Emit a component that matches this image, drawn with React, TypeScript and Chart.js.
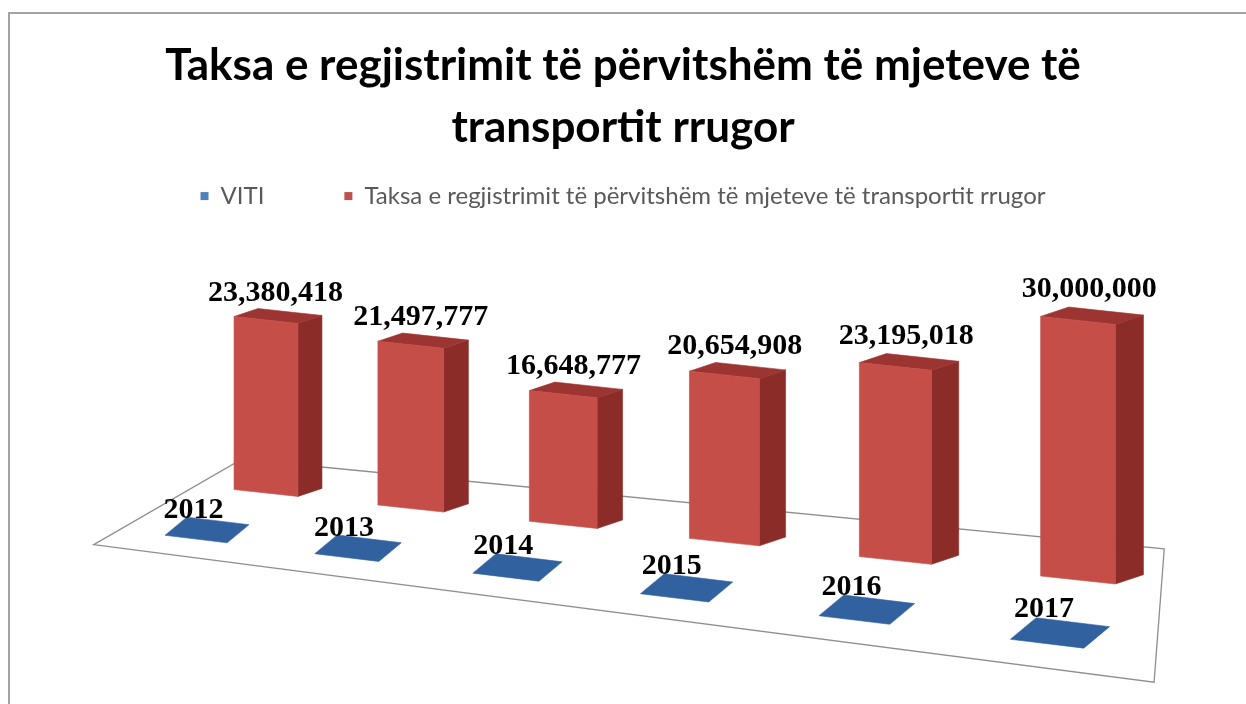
import React, { useEffect, useRef } from 'react';
import { Chart, registerables } from 'chart.js';

Chart.register(...registerables);

// ---------- data ----------
const YEARS = ['2012', '2013', '2014', '2015', '2016', '2017'];
const VITI = [2012, 2013, 2014, 2015, 2016, 2017];
const TAKSA = [23380418, 21497777, 16648777, 20654908, 23195018, 30000000];
const SERIES_NAMES = ['VITI', 'Taksa e regjistrimit të përvitshëm të mjeteve të transportit rrugor'];
const TITLE_LINES = ['Taksa e regjistrimit të përvitshëm të mjeteve të', 'transportit rrugor'];
const Y_MAX = 30000000;

// ---------- styling / projection constants ----------
const LEGEND_COLORS = ['#4F81BD', '#C0504D'];
const RED_FRONT = '#C64E49';
const RED_SIDE = '#8B2C29';
const RED_TOP = '#9C3532';
const BLUE_TOP = '#31619F';
const FLOOR_LINE = '#8f8f8f';
const LABEL_FONT = 'bold 30px "Liberation Serif", "Times New Roman", serif';

// anchors of the perspective floor: (s,t) unit square -> screen px
// s: first..last category, t: front series row..back series row
const ANCHOR_00 = [207, 530];
const ANCHOR_10 = [1060, 633];
const ANCHOR_11 = [1078, 580];
const ANCHOR_01 = [266, 493];
const PERSPECTIVE_MIX = 0.65;
const PERSPECTIVE_POWER = 0.7;
const X_REF = 680; // px per unit s at reference depth (width conversion)
const H_FULL = 222; // px for Y_MAX at reference depth
const BAR_DEPTH = [24, -8];
const FLAT_DEPTH = [21, -17.5];
const FLOOR_T = [-0.62, 1.78];

function makeHomography(p0: number[], p1: number[], p2: number[], p3: number[]) {
  const [x0, y0] = p0, [x1, y1] = p1, [x2, y2] = p2, [x3, y3] = p3;
  const dx1 = x1 - x2, dy1 = y1 - y2, dx2 = x3 - x2, dy2 = y3 - y2;
  const dx3 = x0 - x1 + x2 - x3, dy3 = y0 - y1 + y2 - y3;
  const den = dx1 * dy2 - dx2 * dy1;
  const g = (dx3 * dy2 - dx2 * dy3) / den;
  const h = (dx1 * dy3 - dx3 * dy1) / den;
  const a = x1 - x0 + g * x1, b = x3 - x0 + h * x3, c = x0;
  const d = y1 - y0 + g * y1, e = y3 - y0 + h * y3, f = y0;
  return (s: number, t: number) => {
    const w = g * s + h * t + 1;
    return { x: (a * s + b * t + c) / w, y: (d * s + e * t + f) / w, w };
  };
}

const HOM = makeHomography(ANCHOR_00, ANCHOR_10, ANCHOR_11, ANCHOR_01);
function P(s: number, t: number) {
  const h = HOM(s, t);
  const bx =
    (1 - s) * (1 - t) * ANCHOR_00[0] + s * (1 - t) * ANCHOR_10[0] + s * t * ANCHOR_11[0] + (1 - s) * t * ANCHOR_01[0];
  const by =
    (1 - s) * (1 - t) * ANCHOR_00[1] + s * (1 - t) * ANCHOR_10[1] + s * t * ANCHOR_11[1] + (1 - s) * t * ANCHOR_01[1];
  const m = PERSPECTIVE_MIX;
  return { x: m * h.x + (1 - m) * bx, y: m * h.y + (1 - m) * by, w: h.w };
}
const W_REF = HOM(0, 1).w;
const scaleAt = (s: number, t: number) => Math.pow(W_REF / HOM(s, t).w, PERSPECTIVE_POWER);
const slopeAt = (s: number, t: number) => {
  const a = P(s - 0.01, t), b = P(s + 0.01, t);
  return (b.y - a.y) / (b.x - a.x);
};

function poly(ctx: CanvasRenderingContext2D, pts: number[][], fill: string) {
  ctx.beginPath();
  ctx.moveTo(pts[0][0], pts[0][1]);
  for (let i = 1; i < pts.length; i++) ctx.lineTo(pts[i][0], pts[i][1]);
  ctx.closePath();
  ctx.fillStyle = fill;
  ctx.fill();
  ctx.strokeStyle = fill;
  ctx.lineWidth = 0.6;
  ctx.stroke();
}

const bars3d = {
  id: 'bars3d',
  beforeDatasetsDraw(chart: any) {
    const ctx: CanvasRenderingContext2D = chart.ctx;
    const xs = chart.scales.x;
    const p0 = xs.getPixelForValue(0);
    const p1 = xs.getPixelForValue(YEARS.length - 1);
    const sL = (chart.chartArea.left - p0) / (p1 - p0);
    const sR = (chart.chartArea.right - p0) / (p1 - p0);
    const c = [P(sL, FLOOR_T[0]), P(sR, FLOOR_T[0]), P(sR - 0.02, FLOOR_T[1]), P(sL, FLOOR_T[1])];
    ctx.save();
    ctx.beginPath();
    ctx.moveTo(c[0].x, c[0].y);
    for (let i = 1; i < 4; i++) ctx.lineTo(c[i].x, c[i].y);
    ctx.closePath();
    ctx.fillStyle = '#ffffff';
    ctx.fill();
    ctx.strokeStyle = FLOOR_LINE;
    ctx.lineWidth = 1.3;
    ctx.stroke();
    ctx.restore();
  },
  beforeDatasetDraw() {
    return false;
  },
  afterDatasetsDraw(chart: any) {
    const ctx: CanvasRenderingContext2D = chart.ctx;
    const xs = chart.scales.x, ys = chart.scales.y;
    const p0 = xs.getPixelForValue(0);
    const p1 = xs.getPixelForValue(YEARS.length - 1);
    const span = p1 - p0;
    const yFull = ys.getPixelForValue(0) - ys.getPixelForValue(Y_MAX);
    ctx.save();

    // back row: red columns
    const red = chart.getDatasetMeta(1);
    red.data.forEach((el: any, i: number) => {
      const s = (el.x - p0) / span;
      const t = 1;
      const sc = scaleAt(s, t);
      const ctr = P(s, t);
      const slope = slopeAt(s, t);
      const hw = (el.width / span / 2) * X_REF * sc;
      const hpx = ((el.base - el.y) / yFull) * H_FULL * sc;
      const D = [BAR_DEPTH[0] * sc, BAR_DEPTH[1] * sc];
      const BL = [ctr.x - hw, ctr.y - hw * slope];
      const BR = [ctr.x + hw, ctr.y + hw * slope];
      const TL = [BL[0], BL[1] - hpx];
      const TR = [BR[0], BR[1] - hpx];
      const BRd = [BR[0] + D[0], BR[1] + D[1]];
      const TRd = [TR[0] + D[0], TR[1] + D[1]];
      const TLd = [TL[0] + D[0], TL[1] + D[1]];
      poly(ctx, [BR, BRd, TRd, TR], RED_SIDE);
      poly(ctx, [TL, TR, TRd, TLd], RED_TOP);
      poly(ctx, [BL, BR, TR, TL], RED_FRONT);
      // value label
      const v = chart.data.datasets[1].data[i] as number;
      ctx.font = LABEL_FONT;
      ctx.fillStyle = '#000';
      ctx.textAlign = 'center';
      ctx.textBaseline = 'middle';
      ctx.fillText(v.toLocaleString('en-US'), ctr.x + D[0] * 0.4, Math.min(TLd[1], TRd[1]) - 15 * sc);
    });

    // front row: blue (flat) columns
    const blue = chart.getDatasetMeta(0);
    blue.data.forEach((el: any) => {
      const s = (el.x - p0) / span;
      const t = 0;
      const sc = scaleAt(s, t);
      const ctr = P(s, t);
      const slope = slopeAt(s, t);
      const hw = (el.width / span / 2) * X_REF * sc;
      const hpx = ((el.base - el.y) / yFull) * H_FULL * sc;
      const D = [FLAT_DEPTH[0] * sc, FLAT_DEPTH[1] * sc];
      const FL = [ctr.x - hw - D[0] / 2, ctr.y - hw * slope - D[1] / 2 - hpx];
      const FR = [ctr.x + hw - D[0] / 2, ctr.y + hw * slope - D[1] / 2 - hpx];
      const BRk = [FR[0] + D[0], FR[1] + D[1]];
      const BLk = [FL[0] + D[0], FL[1] + D[1]];
      poly(ctx, [FL, FR, BRk, BLk], BLUE_TOP);
    });
    blue.data.forEach((el: any, i: number) => {
      const s = (el.x - p0) / span;
      const sc = scaleAt(s, 0);
      const ctr = P(s, 0);
      const v = chart.data.datasets[0].data[i] as number;
      ctx.font = LABEL_FONT;
      ctx.fillStyle = '#000';
      ctx.textAlign = 'center';
      ctx.textBaseline = 'middle';
      ctx.fillText(String(v), ctr.x - 13 * sc, ctr.y - 19 * sc);
    });
    ctx.restore();
  },
};

export default function App() {
  const ref = useRef<HTMLCanvasElement | null>(null);
  useEffect(() => {
    if (!ref.current) return;
    const chart = new Chart(ref.current, {
      type: 'bar',
      data: {
        labels: YEARS,
        datasets: [
          {
            label: SERIES_NAMES[0],
            data: VITI,
            backgroundColor: LEGEND_COLORS[0],
            borderWidth: 0,
            grouped: false,
            categoryPercentage: 1,
            barPercentage: 0.44,
          },
          {
            label: SERIES_NAMES[1],
            data: TAKSA,
            backgroundColor: LEGEND_COLORS[1],
            borderWidth: 0,
            grouped: false,
            categoryPercentage: 1,
            barPercentage: 0.47,
          },
        ],
      },
      options: {
        animation: false,
        responsive: false,
        devicePixelRatio: 1,
        events: [],
        layout: { padding: 0 },
        scales: {
          x: { display: false },
          y: { display: false, min: 0, max: Y_MAX },
        },
        plugins: {
          title: {
            display: true,
            text: TITLE_LINES,
            color: '#000000',
            font: { family: 'Lato', weight: 'bold', size: 44, lineHeight: 1.41 },
            padding: { top: 35, bottom: -55 },
          },
          legend: {
            display: true,
            position: 'top',
            labels: {
              boxWidth: 8,
              boxHeight: 8,
              padding: 80,
              color: '#595959',
              font: { family: 'Lato', size: 24 },
            },
          },
          tooltip: { enabled: false },
        },
      },
      plugins: [bars3d],
    } as any);
    return () => chart.destroy();
  }, []);

  return (
    <div style={{ position: 'fixed', inset: 0, overflow: 'hidden', background: '#fff' }}>
      <div
        style={{
          position: 'absolute',
          left: 8,
          top: 12,
          width: 2000,
          height: 2000,
          borderTop: '2px solid #a3a3a3',
          borderLeft: '2px solid #a3a3a3',
        }}
      />
      <canvas
        ref={ref}
        width={1246}
        height={704}
        style={{ position: 'absolute', left: 0, top: 0, width: 1246, height: 704 }}
      />
    </div>
  );
}
